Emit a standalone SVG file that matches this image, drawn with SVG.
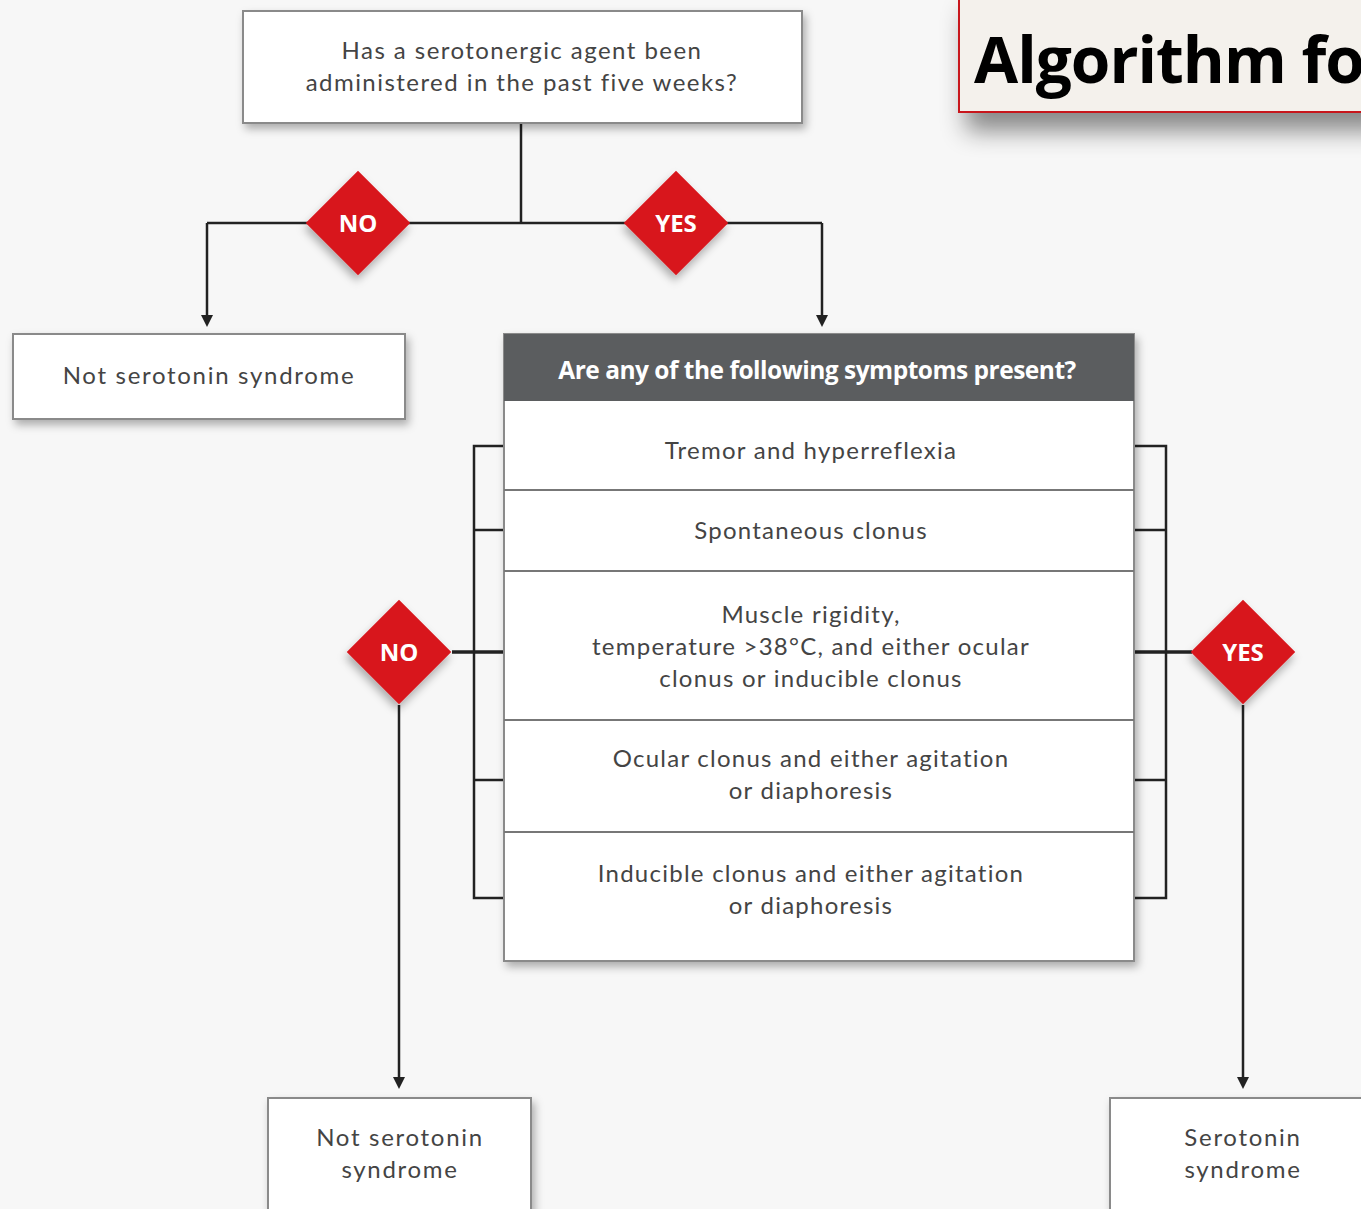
<svg xmlns="http://www.w3.org/2000/svg" width="1361" height="1209" viewBox="0 0 1361 1209">
<defs>
<style>
.box{fill:#fff;stroke:#8a8a8a;stroke-width:2}
.t{font-family:Lato,"Open Sans","Liberation Sans",sans-serif;font-size:24px;fill:#444;text-anchor:middle;letter-spacing:1.25px}
.o{letter-spacing:1.7px}
.dt{font-family:"Open Sans","Liberation Sans",sans-serif;font-size:24px;font-weight:bold;fill:#fff;text-anchor:middle}
.dia{fill:#d8181f}
.ln{stroke:#222;stroke-width:2.5;fill:none}
.div{stroke:#777;stroke-width:2}
</style>
<filter id="sh" x="-10%" y="-10%" width="130%" height="140%">
<feDropShadow dx="3" dy="5" stdDeviation="4" flood-color="#000" flood-opacity="0.3"/>
</filter>
<filter id="sh2" x="-20%" y="-20%" width="140%" height="160%">
<feDropShadow dx="8" dy="18" stdDeviation="12" flood-color="#000" flood-opacity="0.45"/>
</filter>
</defs>
<rect width="1361" height="1209" fill="#f7f7f7"/>

<g id="connectors">
<line class="ln" x1="521" y1="123" x2="521" y2="223"/>
<polyline class="ln" points="207,223 822,223"/>
<path d="M207,223 V318" class="ln"/>
<path d="M201,315 L213,315 L207,327 z" fill="#222"/>
<path d="M822,223 V318" class="ln"/>
<path d="M816,315 L828,315 L822,327 z" fill="#222"/>
<path class="ln" d="M504,446 H474 V898 H504 M474,530 H504 M474,780 H504"/>
<path class="ln" d="M1134,446 H1166 V898 H1134 M1166,530 H1134 M1166,780 H1134"/>
<path d="M452,652 H504" stroke="#222" stroke-width="3.5"/>
<path d="M1134,652 H1192" stroke="#222" stroke-width="3.5"/>
<path d="M399,705 V1080" class="ln"/>
<path d="M393,1077 L405,1077 L399,1089 z" fill="#222"/>
<path d="M1243,705 V1080" class="ln"/>
<path d="M1237,1077 L1249,1077 L1243,1089 z" fill="#222"/>
</g>

<g id="q1">
<rect class="box" x="243" y="11" width="559" height="112" filter="url(#sh)"/>
<text class="t" x="522" y="59" style="letter-spacing:1.45px">Has a serotonergic agent been</text>
<text class="t" x="522" y="91" style="letter-spacing:1.45px">administered in the past five weeks?</text>
</g>

<g id="no1">
<rect class="dia" x="321" y="186" width="74" height="74" transform="rotate(45 358 223)" filter="url(#sh)"/>
<text class="dt" x="358" y="232">NO</text>
</g>
<g id="yes1">
<rect class="dia" x="639" y="186" width="74" height="74" transform="rotate(45 676 223)" filter="url(#sh)"/>
<text class="dt" x="676" y="232">YES</text>
</g>

<g id="notss1">
<rect class="box" x="13" y="334" width="392" height="85" filter="url(#sh)"/>
<text class="t o" x="209" y="384">Not serotonin syndrome</text>
</g>

<g id="symptoms">
<rect class="box" x="504" y="334" width="630" height="627" filter="url(#sh)"/>
<rect x="504" y="334" width="630" height="67" fill="#5b5d5f"/>
<text class="dt" x="817" y="379" style="font-family:'Liberation Sans Narrow','Open Sans',sans-serif;font-size:24.5px;letter-spacing:-0.5px">Are any of the following symptoms present?</text>
<line class="div" x1="504" y1="490" x2="1134" y2="490"/>
<line class="div" x1="504" y1="571" x2="1134" y2="571"/>
<line class="div" x1="504" y1="720" x2="1134" y2="720"/>
<line class="div" x1="504" y1="832" x2="1134" y2="832"/>
<text class="t" x="811" y="459">Tremor and hyperreflexia</text>
<text class="t" x="811" y="539">Spontaneous clonus</text>
<text class="t" x="811" y="623">Muscle rigidity,</text>
<text class="t" x="811" y="655">temperature &gt;38°C, and either ocular</text>
<text class="t" x="811" y="687">clonus or inducible clonus</text>
<text class="t" x="811" y="767">Ocular clonus and either agitation</text>
<text class="t" x="811" y="799">or diaphoresis</text>
<text class="t" x="811" y="882">Inducible clonus and either agitation</text>
<text class="t" x="811" y="914">or diaphoresis</text>
</g>

<g id="no2">
<rect class="dia" x="362" y="615" width="74" height="74" transform="rotate(45 399 652)" filter="url(#sh)"/>
<text class="dt" x="399" y="661">NO</text>
</g>
<g id="yes2">
<rect class="dia" x="1206" y="615" width="74" height="74" transform="rotate(45 1243 652)" filter="url(#sh)"/>
<text class="dt" x="1243" y="661">YES</text>
</g>

<g id="notss2">
<rect class="box" x="268" y="1098" width="263" height="130" filter="url(#sh)"/>
<text class="t o" x="400" y="1146">Not serotonin</text>
<text class="t o" x="400" y="1178">syndrome</text>
</g>

<g id="ss">
<rect class="box" x="1110" y="1098" width="270" height="130" filter="url(#sh)"/>
<text class="t o" x="1243" y="1146">Serotonin</text>
<text class="t o" x="1243" y="1178">syndrome</text>
</g>

<g id="title">
<rect x="959" y="-5" width="420" height="117" fill="#f4f1ec" stroke="#c8161d" stroke-width="2" filter="url(#sh2)"/>
<text x="974" y="83" style="font-family:'Open Sans','Liberation Sans',sans-serif;font-size:64px;font-weight:bold;fill:#000;letter-spacing:-1px">Algorithm fo</text>
</g>
</svg>
